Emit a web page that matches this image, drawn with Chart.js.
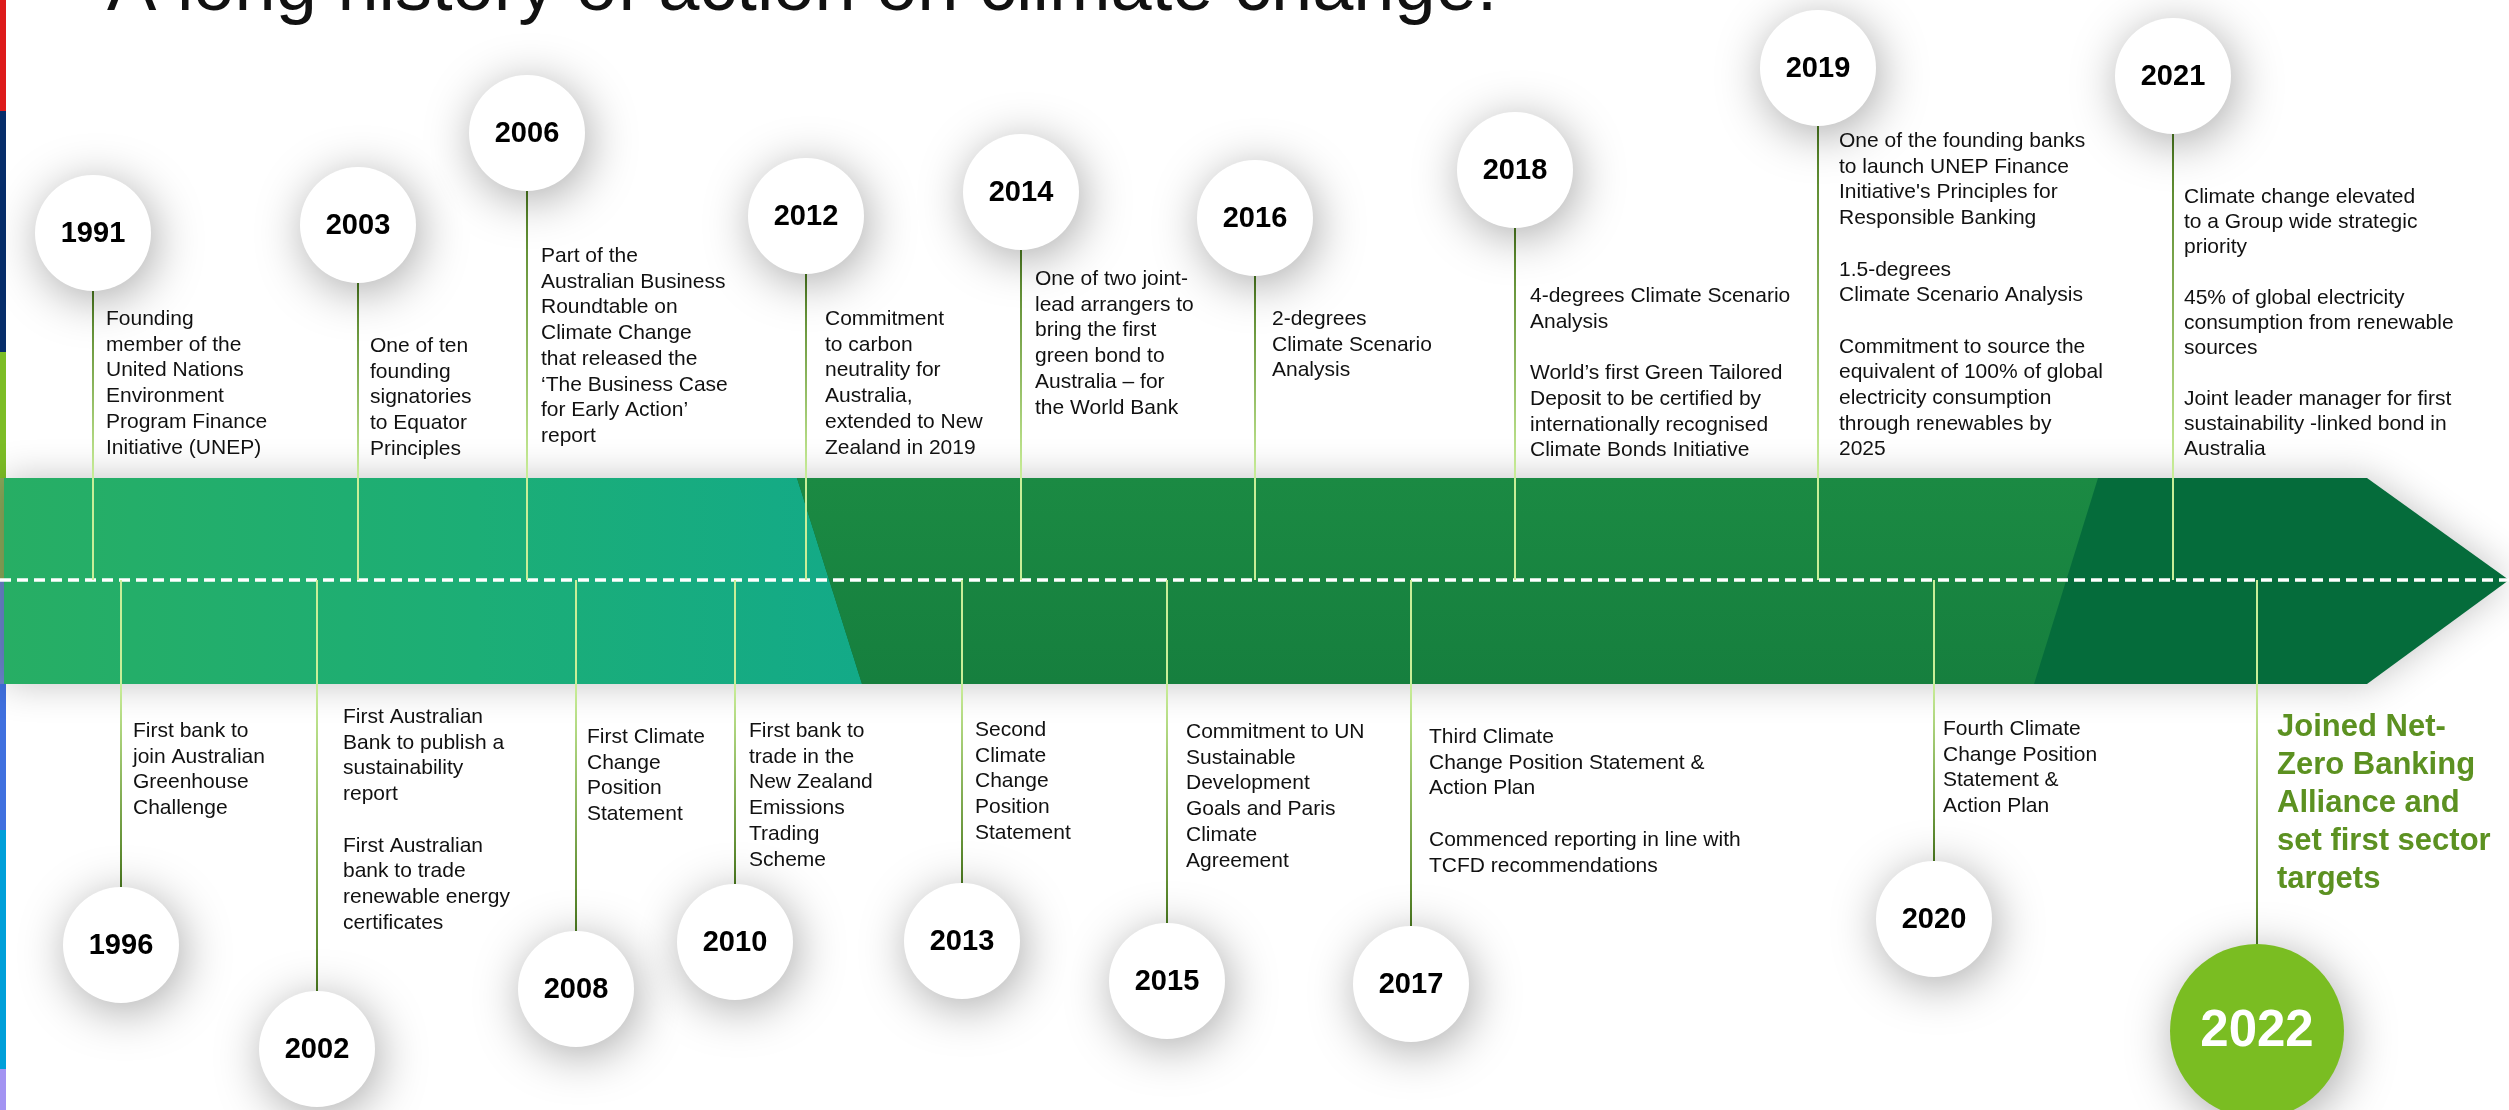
<!DOCTYPE html>
<html>
<head>
<meta charset="utf-8">
<title>A long history of action on climate change</title>
<script src="https://cdn.jsdelivr.net/npm/chart.js@4/dist/chart.umd.min.js"></script>
<style>
  html, body { margin: 0; padding: 0; background: #fff; overflow: hidden; }
  canvas { display: block; }
</style>
</head>
<body>
<canvas id="timeline" width="2509" height="1110"></canvas>
<script>
const chartTitle = 'A long history of action on climate change.';

// events, in year order
const years = [1991, 1996, 2002, 2003, 2006, 2008, 2010, 2012, 2013, 2014, 2015, 2016, 2017, 2018, 2019, 2020, 2021, 2022];
// place along the timeline
const timelinePos = [93, 121, 317, 358, 527, 576, 735, 806, 962, 1021, 1167, 1255, 1411, 1515, 1818, 1934, 2173, 2257];
// height of the year bubble above (+) or below (-) the timeline
const bubbleHeight = [347, -365, -469, 355, 447, -409, -362, 364, -361, 388, -401, 362, -404, 410, 512, -339, 504, -451];
const highlightYear = 2022;

const descriptions = [
  ['Founding', 'member of the', 'United Nations', 'Environment', 'Program Finance', 'Initiative (UNEP)'],
  ['First bank to', 'join Australian', 'Greenhouse', 'Challenge'],
  ['First Australian', 'Bank to publish a', 'sustainability', 'report', '', 'First Australian', 'bank to trade', 'renewable energy', 'certificates'],
  ['One of ten', 'founding', 'signatories', 'to Equator', 'Principles'],
  ['Part of the', 'Australian Business', 'Roundtable on', 'Climate Change', 'that released the', '\u2018The Business Case', 'for Early Action\u2019', 'report'],
  ['First Climate', 'Change', 'Position', 'Statement'],
  ['First bank to', 'trade in the', 'New Zealand', 'Emissions', 'Trading', 'Scheme'],
  ['Commitment', 'to carbon', 'neutrality for', 'Australia,', 'extended to New', 'Zealand in 2019'],
  ['Second', 'Climate', 'Change', 'Position', 'Statement'],
  ['One of two joint-', 'lead arrangers to', 'bring the first', 'green bond to', 'Australia \u2013 for', 'the World Bank'],
  ['Commitment to UN', 'Sustainable', 'Development', 'Goals and Paris', 'Climate', 'Agreement'],
  ['2-degrees', 'Climate Scenario', 'Analysis'],
  ['Third Climate', 'Change Position Statement &', 'Action Plan', '', 'Commenced reporting in line with', 'TCFD recommendations'],
  ['4-degrees Climate Scenario', 'Analysis', '', 'World\u2019s first Green Tailored', 'Deposit to be certified by', 'internationally recognised', 'Climate Bonds Initiative'],
  ['One of the founding banks', 'to launch UNEP Finance', 'Initiative\'s Principles for', 'Responsible Banking', '', '1.5-degrees', 'Climate Scenario Analysis', '', 'Commitment to source the', 'equivalent of 100% of global', 'electricity consumption', 'through renewables by', '2025'],
  ['Fourth Climate', 'Change Position', 'Statement &', 'Action Plan'],
  ['Climate change elevated', 'to a Group wide strategic', 'priority', '', '45% of global electricity', 'consumption from renewable', 'sources', '', 'Joint leader manager for first', 'sustainability -linked bond in', 'Australia'],
  ['Joined Net-', 'Zero Banking', 'Alliance and', 'set first sector', 'targets']
];

// label layout: offset from the stem, first baseline (same units as bubbleHeight)
const labelDx = [13, 12, 26, 12, 14, 11, 14, 19, 13, 14, 19, 17, 18, 15, 21, 9, 11, 20];
const labelTop = [255, -157, -143, 228, 318, -163, -157, 255, -156, 295, -158, 255, -163, 278, 433, -155, 377, -156];

const FONT = '"Liberation Sans", Arial, sans-serif';
const BUBBLE_R = 58, BIG_R = 87;
const BAND_TOP = 102, BAND_BOTTOM = -104;
const stemDark = '#4b7a1f', stemPale = '#c9ee98';

const isBig = i => years[i] === highlightYear;

const stems = years.map((yr, i) => {
  const h = bubbleHeight[i];
  const r = isBig(i) ? BIG_R : BUBBLE_R;
  const edge = h > 0 ? h - r : h + r;
  const bandEdge = h > 0 ? BAND_TOP : BAND_BOTTOM;
  return {
    label: 'stem ' + yr,
    data: [{x: timelinePos[i], y: edge}, {x: timelinePos[i], y: 0}],
    showLine: true,
    pointRadius: 0,
    pointHoverRadius: 0,
    borderWidth: 2,
    clip: false,
    order: 2,
    borderColor: (c) => {
      const chart = c.chart;
      if (!chart.chartArea) return stemPale;
      const ys = chart.scales.y;
      const g = chart.ctx.createLinearGradient(0, ys.getPixelForValue(edge), 0, ys.getPixelForValue(bandEdge));
      g.addColorStop(0, stemDark);
      g.addColorStop(1, stemPale);
      return g;
    }
  };
});

const bubbles = {
  label: 'years',
  data: years.map((yr, i) => ({x: timelinePos[i], y: bubbleHeight[i]})),
  pointRadius: c => isBig(c.dataIndex) ? BIG_R : BUBBLE_R,
  pointHoverRadius: c => isBig(c.dataIndex) ? BIG_R : BUBBLE_R,
  pointBackgroundColor: c => isBig(c.dataIndex) ? '#7abd22' : '#ffffff',
  pointBorderWidth: 0,
  clip: false,
  order: 0
};

const timelinePlugin = {
  id: 'timeline',
  beforeDatasetsDraw(chart) {
    const {ctx, scales: {x, y}} = chart;
    const X = v => x.getPixelForValue(v), Y = v => y.getPixelForValue(v);
    const top = Y(BAND_TOP), bot = Y(BAND_BOTTOM), mid = Y(0);
    const x0 = X(4), s1t = X(797), s1b = X(862), s2t = X(2098), s2b = X(2034), xe = X(2367), tip = X(2509);

    ctx.save();
    // left colour strip
    const strip = [[0, 111, '#dd1a1a'], [111, 352, '#062d6a'], [352, 478, '#7cbd26'], [478, 580, '#89a95a'],
      [580, 684, '#6a85cc'], [684, 830, '#3f70df'], [830, 1069, '#009fd9'], [1069, 1110, '#a393f2']];
    strip.forEach(s => { ctx.fillStyle = s[2]; ctx.fillRect(0, s[0], 6, s[1] - s[0]); });

    // band with its shadow
    ctx.shadowColor = 'rgba(0,0,0,0.24)';
    ctx.shadowBlur = 38;
    ctx.beginPath();
    ctx.moveTo(x0, top); ctx.lineTo(xe, top); ctx.lineTo(tip, mid); ctx.lineTo(xe, bot); ctx.lineTo(x0, bot);
    ctx.closePath();
    ctx.fillStyle = '#056c3b';
    ctx.fill();
    ctx.shadowColor = 'transparent';
    ctx.shadowBlur = 0;

    let g = ctx.createLinearGradient(x0, 0, s1b, 0);
    g.addColorStop(0, '#27ae64');
    g.addColorStop(0.55, '#1cae76');
    g.addColorStop(1, '#13aa88');
    ctx.fillStyle = g;
    ctx.beginPath();
    ctx.moveTo(x0, top); ctx.lineTo(s1t, top); ctx.lineTo(s1b, bot); ctx.lineTo(x0, bot);
    ctx.closePath(); ctx.fill();

    g = ctx.createLinearGradient(0, top, 0, bot);
    g.addColorStop(0, '#1b8a43');
    g.addColorStop(1, '#167f3e');
    ctx.fillStyle = g;
    ctx.beginPath();
    ctx.moveTo(s1t, top); ctx.lineTo(s2t, top); ctx.lineTo(s2b, bot); ctx.lineTo(s1b, bot);
    ctx.closePath(); ctx.fill();

    // dashed timeline
    ctx.strokeStyle = '#ffffff';
    ctx.lineWidth = 3.5;
    ctx.setLineDash([11, 6]);
    ctx.beginPath();
    ctx.moveTo(X(0), mid); ctx.lineTo(tip, mid);
    ctx.stroke();
    ctx.restore();
  },
  beforeDatasetDraw(chart, args) {
    if (args.meta.label !== 'years') return;
    const ctx = chart.ctx;
    ctx.save();
    ctx.shadowColor = 'rgba(0,0,0,0.34)';
    ctx.shadowBlur = 48;
    ctx.shadowOffsetX = 4;
    ctx.shadowOffsetY = 8;
  },
  afterDatasetDraw(chart, args) {
    if (args.meta.label !== 'years') return;
    chart.ctx.restore();
  },
  afterDatasetsDraw(chart) {
    const {ctx, scales: {x, y}} = chart;
    const meta = chart.getDatasetMeta(chart.data.datasets.findIndex(d => d.label === 'years'));
    ctx.save();
    // title, partly cut at the top
    ctx.fillStyle = '#111';
    ctx.font = '74px ' + FONT;
    ctx.textBaseline = 'alphabetic';
    ctx.fillText(chartTitle, 107, 10);

    years.forEach((yr, i) => {
      const pt = meta.data[i];
      ctx.textAlign = 'center';
      ctx.textBaseline = 'middle';
      if (isBig(i)) {
        ctx.fillStyle = '#ffffff';
        ctx.font = 'bold 51px ' + FONT;
      } else {
        ctx.fillStyle = '#000000';
        ctx.font = 'bold 29px ' + FONT;
      }
      ctx.fillText(String(yr), pt.x, pt.y + 1);

      ctx.textAlign = 'left';
      ctx.textBaseline = 'alphabetic';
      let lh = 25.7;
      if (isBig(i)) {
        ctx.fillStyle = '#5c9121';
        ctx.font = 'bold 31px ' + FONT;
        lh = 38;
      } else {
        ctx.fillStyle = '#111111';
        ctx.font = '21px ' + FONT;
        if (yr === 2021) lh = 25.2;
      }
      const lx = x.getPixelForValue(timelinePos[i]) + labelDx[i];
      const ly = y.getPixelForValue(labelTop[i]);
      descriptions[i].forEach((line, k) => {
        if (line) ctx.fillText(line, lx, ly + k * lh);
      });
    });
    ctx.restore();
  }
};

new Chart(document.getElementById('timeline'), {
  type: 'scatter',
  data: {
    datasets: [bubbles, ...stems]
  },
  options: {
    responsive: false,
    devicePixelRatio: 1,
    animation: false,
    events: [],
    layout: { padding: 0, autoPadding: false },
    plugins: {
      legend: { display: false },
      tooltip: { enabled: false }
    },
    scales: {
      x: { type: 'linear', min: 0, max: 2509, display: false },
      y: { type: 'linear', min: -530, max: 580, display: false }
    }
  },
  plugins: [timelinePlugin]
});
</script>
</body>
</html>
